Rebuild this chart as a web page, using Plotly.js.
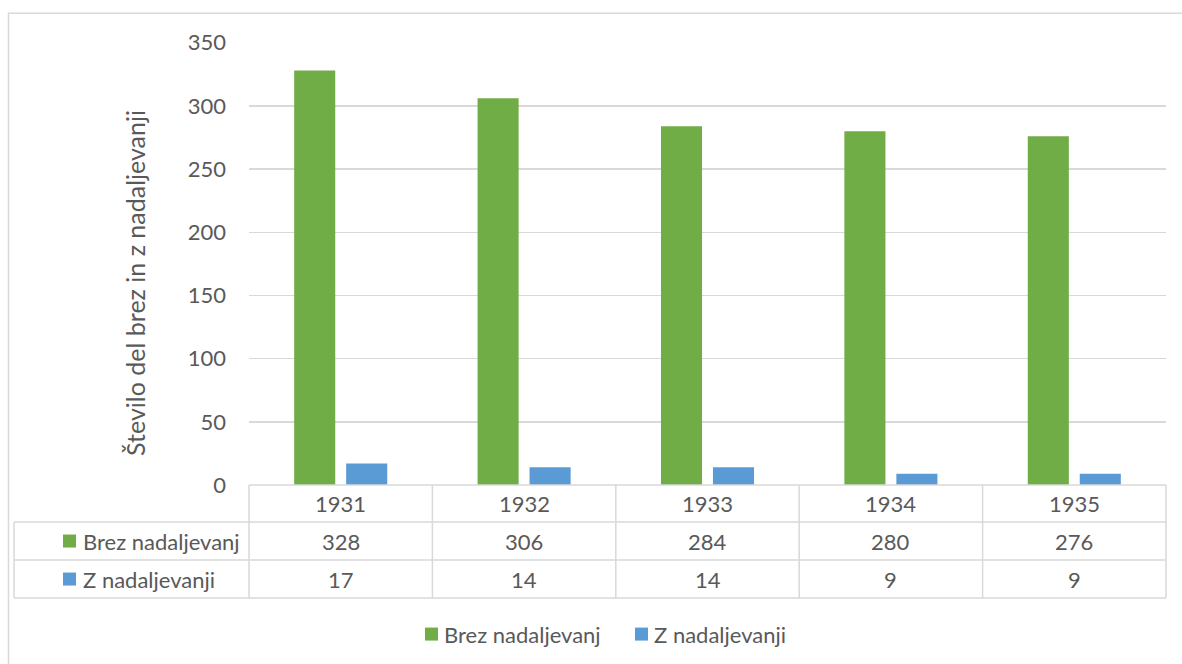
<!DOCTYPE html>
<html>
<head>
<meta charset="utf-8">
<script src="https://cdn.plot.ly/plotly-3.0.1.min.js"></script>
<style>html,body{margin:0;padding:0;background:#fff;}#chart{width:1182px;height:664px;}</style>
</head>
<body>
<div id="chart"></div>
<script>
const years = ["1931", "1932", "1933", "1934", "1935"];
const seriesNames = ["Brez nadaljevanj", "Z nadaljevanji"];
const brez = [328, 306, 284, 280, 276];
const zNad = [17, 14, 14, 9, 9];
const yTitle = "Število del brez in z nadaljevanji";
const colors = ["#70AD47", "#5B9BD5"];
const yTicks = [0, 50, 100, 150, 200, 250, 300, 350];

const W = 1182, H = 664;
const YMAX = 350.6;
const L = 249, R = 1166, B = 485, T = B - 442 * YMAX / 350;
const fx = p => (p - L) / (R - L);
const fy = p => (B - p) / (B - T);
const FONT = "Lato, 'Open Sans', sans-serif";
const TXT = "#595959";
const GRID = "#d9d9d9";
const FS = 22;

const traces = [
  {type: "bar", name: seriesNames[0], x: years, y: brez, marker: {color: colors[0]}, hoverinfo: "x+y"},
  {type: "bar", name: seriesNames[1], x: years, y: zNad, marker: {color: colors[1]}, hoverinfo: "x+y"}
];

const shapes = [];
const annotations = [];
const line = (x0, y0, x1, y1) => shapes.push({type: "line", xref: "paper", yref: "paper",
  x0: fx(x0), y0: fy(y0), x1: fx(x1), y1: fy(y1), line: {color: GRID, width: 1.5}});

// chart border (left/top visible)
shapes.push({type: "rect", xref: "paper", yref: "paper", x0: fx(8.5), y0: fy(13.5), x1: fx(1210), y1: fy(700),
  line: {color: GRID, width: 1.5}, fillcolor: "rgba(0,0,0,0)"});

// data table grid
const rowY = [485, 522, 560, 598];
line(L, rowY[0], R, rowY[0]);
for (let i = 1; i < rowY.length; i++) line(14, rowY[i], R, rowY[i]);
line(14, rowY[1], 14, rowY[3]);
for (let k = 0; k <= years.length; k++) {
  const xp = L + k * (R - L) / years.length;
  line(xp, rowY[0], xp, rowY[3]);
}

// table header (years) and values, placed on the category axis by index
const rows = [brez, zNad];
years.forEach((yr, i) => {
  annotations.push({xref: "x", yref: "paper", x: i, y: fy((rowY[0] + rowY[1]) / 2), text: yr,
    showarrow: false, xanchor: "center", yanchor: "middle", font: {family: FONT, size: FS, color: TXT}});
  rows.forEach((vals, r) => {
    annotations.push({xref: "x", yref: "paper", x: i, y: fy((rowY[r + 1] + rowY[r + 2]) / 2), text: String(vals[i]),
      showarrow: false, xanchor: "center", yanchor: "middle", font: {family: FONT, size: FS, color: TXT}});
  });
});

// row labels with colour keys
seriesNames.forEach((nm, r) => {
  const cy = (rowY[r + 1] + rowY[r + 2]) / 2;
  shapes.push({type: "rect", xref: "paper", yref: "paper", x0: fx(63), x1: fx(76), y0: fy(cy - 6.5), y1: fy(cy + 6.5),
    line: {width: 0}, fillcolor: colors[r]});
  annotations.push({xref: "paper", yref: "paper", x: fx(81), y: fy(cy), text: nm, showarrow: false,
    xanchor: "left", yanchor: "middle", font: {family: FONT, size: FS, color: TXT}});
});

// legend
const legX = [425, 635];
seriesNames.forEach((nm, r) => {
  const cy = 634;
  shapes.push({type: "rect", xref: "paper", yref: "paper", x0: fx(legX[r]), x1: fx(legX[r] + 13), y0: fy(cy - 6.5), y1: fy(cy + 6.5),
    line: {width: 0}, fillcolor: colors[r]});
  annotations.push({xref: "paper", yref: "paper", x: fx(legX[r] + 17), y: fy(cy), text: nm, showarrow: false,
    xanchor: "left", yanchor: "middle", font: {family: FONT, size: FS, color: TXT}});
});

// y-axis title
annotations.push({xref: "paper", yref: "paper", x: fx(135), y: fy(283), text: yTitle, textangle: -90,
  showarrow: false, xanchor: "center", yanchor: "middle", font: {family: FONT, size: 25, color: TXT}});

const layout = {
  width: W, height: H,
  margin: {l: L, r: W - R, t: T, b: H - B, pad: 0},
  paper_bgcolor: "#fff", plot_bgcolor: "#fff",
  showlegend: false,
  barmode: "group", bargap: 0.433, bargroupgap: 0.21,
  xaxis: {type: "category", range: [-0.5, years.length - 0.5], showticklabels: false, showgrid: false, zeroline: false, showline: false, ticks: ""},
  yaxis: {range: [0, YMAX], tickvals: yTicks, showgrid: true, gridcolor: GRID, gridwidth: 1.5,
    zeroline: false, showline: false, ticks: "", ticklabelstandoff: 22,
    tickfont: {family: FONT, size: FS, color: TXT}},
  shapes: shapes,
  annotations: annotations,
  font: {family: FONT, color: TXT}
};

Plotly.newPlot("chart", traces, layout, {displayModeBar: false, staticPlot: true});
</script>
</body>
</html>
